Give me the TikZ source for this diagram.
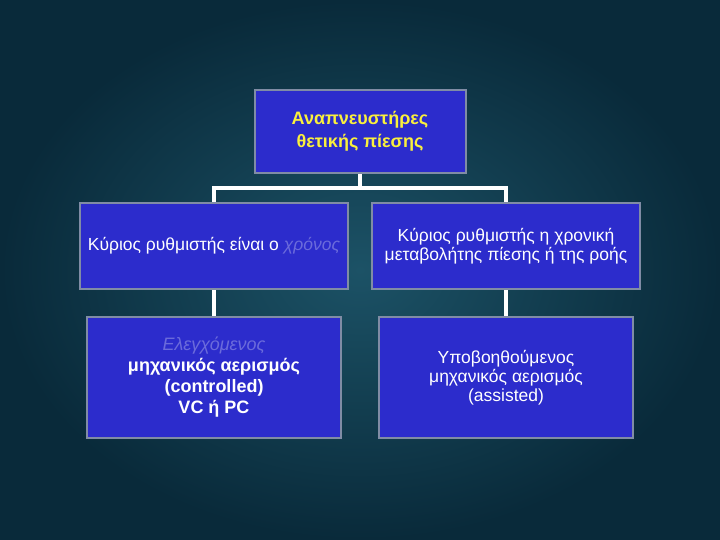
\documentclass[tikz,border=0pt]{standalone}
\usepackage{fontspec}
\setmainfont{Liberation Sans}
\usetikzlibrary{positioning}
\definecolor{bgdark}{RGB}{9,42,58}
\definecolor{bglight}{RGB}{28,82,102}
\definecolor{boxblue}{RGB}{44,44,204}
\definecolor{boxedge}{RGB}{128,140,165}
\definecolor{titleyel}{RGB}{250,240,60}
\colorlet{embfill}{boxblue!70!white}
\tikzstyle{box}=[draw=boxedge,line width=2pt,fill=boxblue,text=white,align=center,
  font=\fontsize{17.5}{19}\selectfont,inner sep=2pt]
\tikzstyle{link}=[white,line width=4pt]
\def\emb#1{{\color{embfill}\itshape #1}}

\begin{document}
\begin{tikzpicture}[x=1pt,y=-1pt]
  % BACKGROUND
  \fill[inner color=bglight,outer color=bgdark] (0,0) rectangle (720,540);
  \useasboundingbox (0,0) rectangle (720,540);

  % BOXES
  \node[box,text=titleyel,font=\bfseries\fontsize{18}{23}\selectfont,
    minimum width=211pt,minimum height=83pt] (top) at (360,131.5)
    {Αναπνευστήρες\\ θετικής πίεσης};
  \node[box,minimum width=268pt,minimum height=86pt] (time) at (214,246)
    {Κύριος ρυθμιστής είναι ο \emb{χρόνος}};
  \node[box,minimum width=268pt,minimum height=86pt] (flow) at (506,246)
    {Κύριος ρυθμιστής η χρονική\\μεταβολήτης πίεσης ή της ροής};
  \node[box,font=\bfseries\fontsize{18}{21}\selectfont,
    minimum width=254pt,minimum height=121pt] (ctrl) at (214,377.5)
    {\emb{\mdseries Ελεγχόμενος}\\μηχανικός αερισμός\\(controlled)\\VC ή PC};
  \node[box,minimum width=254pt,minimum height=121pt] (assist) at (506,377.5)
    {Υποβοηθούμενος\\ μηχανικός αερισμός\\(assisted)};

  % LINKS
  \coordinate (split) at (360,188);
  \draw[link] (top.south) -- (split);
  \draw[link] (time.north) |- (split) -| (flow.north);
  \draw[link] (time.south) -- (ctrl.north);
  \draw[link] (flow.south) -- (assist.north);
\end{tikzpicture}
\end{document}
